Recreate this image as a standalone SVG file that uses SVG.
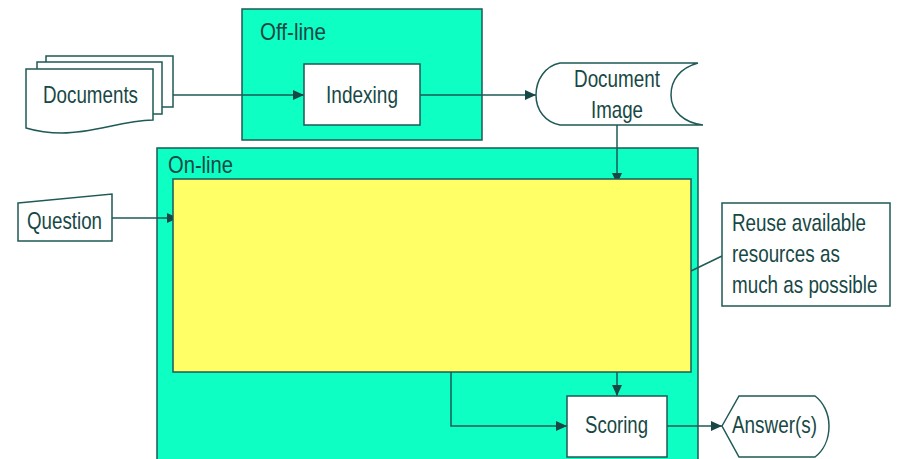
<svg xmlns="http://www.w3.org/2000/svg" width="899" height="459" viewBox="0 0 899 459">
<style>
.c{fill:#0dffc3;stroke:#1e5a56;stroke-width:1.5}
.w{fill:#ffffff;stroke:#1e5a56;stroke-width:1.5}
.y{fill:#ffff66;stroke:#1e5a56;stroke-width:1.5}
.l{fill:none;stroke:#1e5a56;stroke-width:1.5}
text{font-family:"Liberation Sans",Arial,sans-serif;font-size:24px;fill:#174845}
</style>
<defs>
<marker id="a" markerUnits="userSpaceOnUse" markerWidth="12" markerHeight="12" refX="11" refY="5" orient="auto">
<path d="M0,0 L11,5 L0,10 Z" fill="#174845"/>
</marker>
</defs>
<g id="offline">
<rect class="c" x="242" y="9" width="240" height="131"/>
<text x="260" y="40" textLength="66" lengthAdjust="spacingAndGlyphs">Off-line</text>
</g>
<g id="online">
<rect class="c" x="157" y="148" width="541" height="320"/>
<text x="168" y="173" textLength="65" lengthAdjust="spacingAndGlyphs">On-line</text>
</g>
<g id="connectors">
<path class="l" d="M173,95 H304" marker-end="url(#a)"/>
<path class="l" d="M420,95 H536" marker-end="url(#a)"/>
<path class="l" d="M617,125 V184" marker-end="url(#a)"/>
<path class="l" d="M112,218 H178" marker-end="url(#a)"/>
<path class="l" d="M617,372 V396" marker-end="url(#a)"/>
<path class="l" d="M451,372 V426 H567" marker-end="url(#a)"/>
<path class="l" d="M667,426 H722" marker-end="url(#a)"/>
<path class="l" d="M722,256 L691,271"/>
</g>
<g id="processing">
<rect class="y" x="173" y="179" width="518" height="193"/>
</g>
<g id="documents">
<rect class="w" x="46" y="56" width="127" height="51"/>
<rect class="w" x="37" y="62" width="125" height="52"/>
<path class="w" d="M26,69 H153 V120 C120,121 95,133 62,133 C48,133 36,131 26,128 Z"/>
<text x="43" y="103" textLength="95" lengthAdjust="spacingAndGlyphs">Documents</text>
</g>
<g id="indexing">
<rect class="w" x="304" y="64" width="116" height="61"/>
<text x="326" y="103" textLength="72" lengthAdjust="spacingAndGlyphs">Indexing</text>
</g>
<g id="docimage">
<path class="w" d="M560,63 H698 C680,68 671,80 671,95 C671,112 685,123 703,125 H560 C545,122 536,110 536,95 C536,80 545,66 560,63 Z"/>
<text x="574" y="87" textLength="86" lengthAdjust="spacingAndGlyphs">Document</text>
<text x="591" y="118" textLength="52" lengthAdjust="spacingAndGlyphs">Image</text>
</g>
<g id="question">
<path class="w" d="M18,203 L112,194 V241 H18 Z"/>
<text x="27" y="229" textLength="75" lengthAdjust="spacingAndGlyphs">Question</text>
</g>
<g id="note">
<rect class="w" x="722" y="203" width="168" height="103"/>
<g transform="translate(732,0) scale(0.785,1)">
<text x="0" y="231">Reuse available</text>
<text x="0" y="262">resources as</text>
<text x="0" y="293">much as possible</text>
</g>
</g>
<g id="scoring">
<rect class="w" x="567" y="396" width="100" height="61"/>
<text x="585" y="433" textLength="63" lengthAdjust="spacingAndGlyphs">Scoring</text>
</g>
<g id="answer">
<path class="w" d="M722,426 L739,396 H815 C823,402 829,413 829,426 C829,440 823,451 815,457 H739 Z"/>
<text x="732" y="433" textLength="85" lengthAdjust="spacingAndGlyphs">Answer(s)</text>
</g>
</svg>
